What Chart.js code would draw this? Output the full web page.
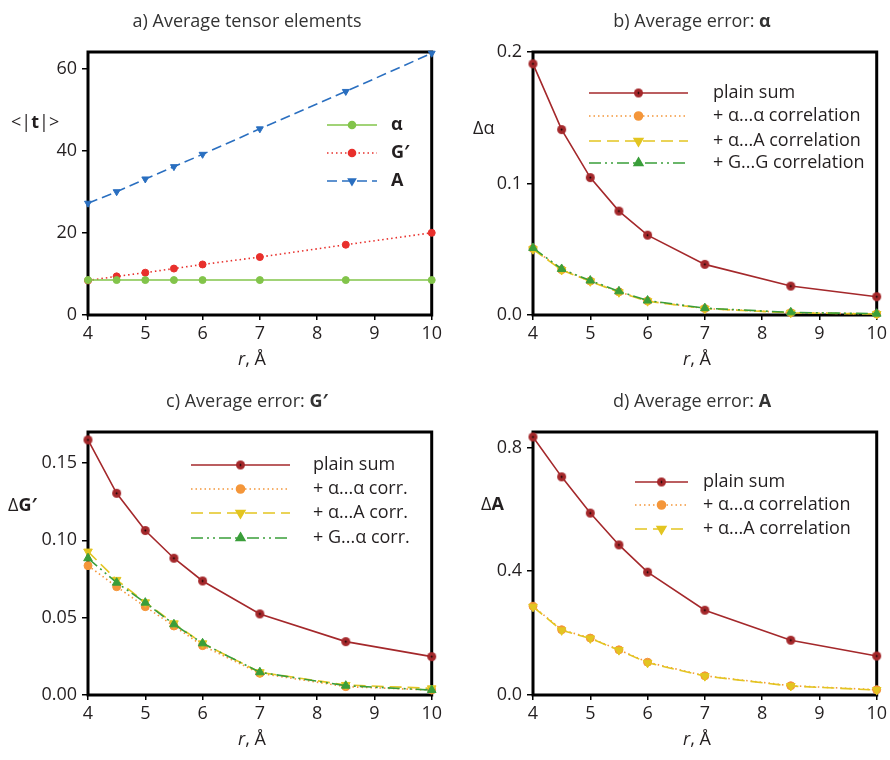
<!DOCTYPE html>
<html>
<head>
<meta charset="utf-8">
<script src="https://cdn.jsdelivr.net/npm/chart.js@4.4.0/dist/chart.umd.min.js"></script>
<style>
body { margin: 0; background: #fff; }
#wrap { position: relative; width: 890px; height: 760px; }
canvas { position: absolute; }
</style>
</head>
<body>
<div id="wrap">
  <canvas id="chA" width="445" height="380" style="left:0;top:0"></canvas>
  <canvas id="chB" width="445" height="380" style="left:445px;top:0"></canvas>
  <canvas id="chC" width="445" height="380" style="left:0;top:380px"></canvas>
  <canvas id="chD" width="445" height="380" style="left:445px;top:380px"></canvas>
</div>
<script>
// distances r (Å) and axis ticks
const rValues = [4, 4.5, 5, 5.5, 6, 7, 8.5, 10];
const xTicks = [4, 5, 6, 7, 8, 9, 10];

// a) average tensor elements
const tAlpha = [8.5, 8.5, 8.5, 8.5, 8.5, 8.5, 8.5, 8.5];
const tG = [8.4, 9.4, 10.3, 11.3, 12.3, 14.1, 17.1, 20.0];
const tA = [27.2, 30.0, 33.1, 36.1, 39.1, 45.3, 54.4, 63.7];
const aTicks = [0, 20, 40, 60];
const aTickLabels = ["0", "20", "40", "60"];

// b) average error alpha
const errAlphaPlain = [0.191, 0.141, 0.1045, 0.079, 0.0607, 0.0385, 0.022, 0.0139];
const errAlphaAA = [0.0505, 0.0345, 0.0258, 0.0176, 0.0107, 0.0049, 0.0018, 0.0008];
const errAlphaAlA = [0.0500, 0.0342, 0.0256, 0.0173, 0.0105, 0.0048, 0.0017, 0.0007];
const errAlphaGG = [0.0510, 0.0350, 0.0262, 0.0180, 0.0110, 0.0052, 0.0020, 0.0010];
const bTicks = [0, 0.1, 0.2];
const bTickLabels = ["0.0", "0.1", "0.2"];

// c) average error G'
const errGPlain = [0.1649, 0.1304, 0.1063, 0.0884, 0.0737, 0.0524, 0.0345, 0.0248];
const errGAA = [0.0836, 0.0700, 0.0571, 0.0446, 0.0319, 0.0140, 0.0054, 0.0032];
const errGAlA = [0.0927, 0.0744, 0.0599, 0.0463, 0.0334, 0.0147, 0.0065, 0.0043];
const errGGA = [0.0884, 0.0726, 0.0597, 0.0457, 0.0334, 0.0147, 0.0060, 0.0032];
const cTicks = [0, 0.05, 0.10, 0.15];
const cTickLabels = ["0.00", "0.05", "0.10", "0.15"];

// d) average error A
const errAPlain = [0.834, 0.705, 0.588, 0.485, 0.397, 0.274, 0.177, 0.126];
const errAAA = [0.287, 0.211, 0.184, 0.146, 0.106, 0.062, 0.030, 0.017];
const errAAlA = [0.285, 0.209, 0.183, 0.145, 0.104, 0.061, 0.029, 0.016];
const dTicks = [0, 0.4, 0.8];
const dTickLabels = ["0.0", "0.4", "0.8"];

const FAM = "'Open Sans', Lato, sans-serif";
const TXT = "#231f20";
const FS = 18;
const f = (size, weight, style) => `${style || "normal"} ${weight || "normal"} ${size}px ${FAM}`;

const RED = "#a4282b", ORANGE = "#f4963a", YELLOW = "#e3c521", GREEN = "#3a9e3a";

// red marker with tiny black centre
function redDot(r) {
  const c = document.createElement("canvas");
  c.width = c.height = r * 2 + 2;
  const x = c.getContext("2d");
  x.fillStyle = RED;
  x.beginPath(); x.arc(r + 1, r + 1, r, 0, Math.PI * 2); x.fill();
  x.fillStyle = "#000";
  x.beginPath(); x.arc(r + 1, r + 1, 0.9, 0, Math.PI * 2); x.fill();
  return c;
}
const plainMarker = redDot(4.5);

function xy(ys) { return rValues.map((r, i) => ({ x: r, y: ys[i] })); }

// draws a list of [text, font] runs
function drawRuns(ctx, runs, x, y, align) {
  let w = 0;
  runs.forEach(([t, font]) => { ctx.font = font; w += ctx.measureText(t).width; });
  let cx = align === "center" ? x - w / 2 : x;
  ctx.textBaseline = "middle";
  ctx.textAlign = "left";
  runs.forEach(([t, font]) => {
    ctx.font = font;
    ctx.fillText(t, cx, y);
    cx += ctx.measureText(t).width;
  });
}

const decor = {
  id: "decor",
  beforeDatasetsDraw(chart) {
    const a = chart.chartArea, ctx = chart.ctx;
    ctx.save();
    ctx.lineWidth = 3;
    ctx.strokeStyle = "#000";
    ctx.strokeRect(a.left, a.top, a.right - a.left, a.bottom - a.top);
    ctx.restore();
  },
  afterDraw(chart, args, o) {
    const ctx = chart.ctx;
    ctx.save();
    ctx.fillStyle = "#333";
    drawRuns(ctx, o.title, 247, 22, "center");
    ctx.fillStyle = TXT;
    drawRuns(ctx, o.ylab.runs, o.ylab.x, o.ylab.y, "left");
    drawRuns(ctx, [["r", f(FS, "normal", "italic")], [", Å", f(FS)]], 252, 360, "center");
    const L = o.legend;
    chart.data.datasets.forEach((ds, i) => {
      const y = L.ys[i];
      ctx.save();
      ctx.strokeStyle = ds.borderColor;
      ctx.lineWidth = ds.borderWidth;
      ctx.setLineDash(ds.borderDash || []);
      ctx.beginPath(); ctx.moveTo(L.x0, y); ctx.lineTo(L.x1, y); ctx.stroke();
      ctx.setLineDash([]);
      ctx.fillStyle = ds.pointBackgroundColor;
      ctx.strokeStyle = ds.pointBorderColor;
      Chart.helpers.drawPoint(ctx, {
        pointStyle: ds.pointStyle, radius: ds.pointRadius,
        rotation: ds.pointRotation || 0, borderWidth: 1
      }, (L.x0 + L.x1) / 2, y);
      ctx.restore();
      ctx.fillStyle = TXT;
      drawRuns(ctx, L.labels[i], L.tx, y, "left");
    });
    ctx.restore();
  }
};

function line(data, color, dash, style, radius, extra) {
  return Object.assign({
    data: xy(data), borderColor: color, borderWidth: 1.6, borderDash: dash,
    pointStyle: style, pointRadius: radius, pointHoverRadius: radius,
    pointBackgroundColor: color, pointBorderColor: color, pointBorderWidth: 1,
    clip: false, tension: 0
  }, extra || {});
}

function makeChart(id, datasets, yMax, yTicks, yLabels, deco) {
  return new Chart(document.getElementById(id), {
    type: "line",
    data: { datasets: datasets },
    options: {
      responsive: false,
      animation: false,
      layout: { padding: { left: 0, right: 13, top: 52, bottom: 0 } },
      scales: {
        x: {
          type: "linear", min: 4, max: 10,
          afterFit: s => { s.height = 65; },
          afterBuildTicks: s => { s.ticks = xTicks.map(v => ({ value: v })); },
          border: { display: false },
          grid: { drawOnChartArea: false, color: "#000", lineWidth: 1.5, tickLength: 5 },
          ticks: { color: TXT, font: { family: FAM, size: FS }, padding: 3, maxRotation: 0,
                   callback: v => String(v) }
        },
        y: {
          min: 0, max: yMax,
          afterFit: s => { s.width = 88; },
          afterBuildTicks: s => { s.ticks = yTicks.map(v => ({ value: v })); },
          border: { display: false },
          grid: { drawOnChartArea: false, color: "#000", lineWidth: 1.5, tickLength: 6 },
          ticks: { color: TXT, font: { family: FAM, size: FS }, padding: 5,
                   callback: v => yLabels[yTicks.findIndex(t => Math.abs(t - v) < 1e-9)] }
        }
      },
      plugins: { legend: { display: false }, tooltip: { enabled: false }, decor: deco }
    },
    plugins: [decor]
  });
}

// a)
makeChart("chA", [
  line(tAlpha, "#82c44a", [], "circle", 3.5),
  line(tG, "#e8302c", [1.5, 3], "circle", 3.5),
  line(tA, "#2a6fc0", [10, 5], "triangle", 4, { pointRotation: 180 })
], 64, aTicks, aTickLabels, {
  title: [["a) Average tensor elements", f(FS)]],
  ylab: { runs: [["<|", f(FS)], ["t", f(FS, "bold")], ["|>", f(FS)]], x: 11, y: 123 },
  legend: { x0: 327, x1: 377, tx: 391, ys: [125, 153, 181],
    labels: [[["α", f(FS, "bold")]], [["G′", f(FS, "bold")]], [["A", f(FS, "bold")]]] }
});

// b)
makeChart("chB", [
  line(errAlphaPlain, RED, [], plainMarker, 4.5, { order: 0 }),
  line(errAlphaAA, ORANGE, [1.5, 3], "circle", 4, { order: 3 }),
  line(errAlphaAlA, YELLOW, [12, 6], "triangle", 5, { pointRotation: 180, order: 2 }),
  line(errAlphaGG, GREEN, [12, 4, 2, 4, 2, 4], "triangle", 5, { order: 1 })
], 0.2, bTicks, bTickLabels, {
  title: [["b) Average error: ", f(FS)], ["α", f(FS, "bold")]],
  ylab: { runs: [["Δα", f(FS)]], x: 28, y: 129 },
  legend: { x0: 144, x1: 243, tx: 268, ys: [93, 116, 141, 163],
    labels: [[["plain sum", f(FS)]], [["+ α...α correlation", f(FS)]],
             [["+ α...A correlation", f(FS)]], [["+ G...G correlation", f(FS)]]] }
});

// c)
makeChart("chC", [
  line(errGPlain, RED, [], plainMarker, 4.5, { order: 0 }),
  line(errGAA, ORANGE, [1.5, 3], "circle", 4, { order: 3 }),
  line(errGAlA, YELLOW, [12, 6], "triangle", 5, { pointRotation: 180, order: 2 }),
  line(errGGA, GREEN, [12, 4, 2, 4, 2, 4], "triangle", 5, { order: 1 })
], 0.17, cTicks, cTickLabels, {
  title: [["c) Average error: ", f(FS)], ["G′", f(FS, "bold")]],
  ylab: { runs: [["Δ", f(FS)], ["G′", f(FS, "bold")]], x: 8, y: 126 },
  legend: { x0: 191, x1: 290, tx: 313, ys: [85, 109, 133, 158],
    labels: [[["plain sum", f(FS)]], [["+ α...α corr.", f(FS)]],
             [["+ α...A corr.", f(FS)]], [["+ G...α corr.", f(FS)]]] }
});

// d)
makeChart("chD", [
  line(errAPlain, RED, [], plainMarker, 4.5, { order: 0 }),
  line(errAAA, ORANGE, [1.5, 3], "circle", 4, { order: 2 }),
  line(errAAlA, YELLOW, [12, 6], "triangle", 5, { pointRotation: 180, order: 1 })
], 0.85, dTicks, dTickLabels, {
  title: [["d) Average error: ", f(FS)], ["A", f(FS, "bold")]],
  ylab: { runs: [["Δ", f(FS)], ["A", f(FS, "bold")]], x: 36, y: 125 },
  legend: { x0: 190, x1: 243, tx: 258, ys: [102, 125, 149],
    labels: [[["plain sum", f(FS)]], [["+ α...α correlation", f(FS)]],
             [["+ α...A correlation", f(FS)]]] }
});
</script>
</body>
</html>
